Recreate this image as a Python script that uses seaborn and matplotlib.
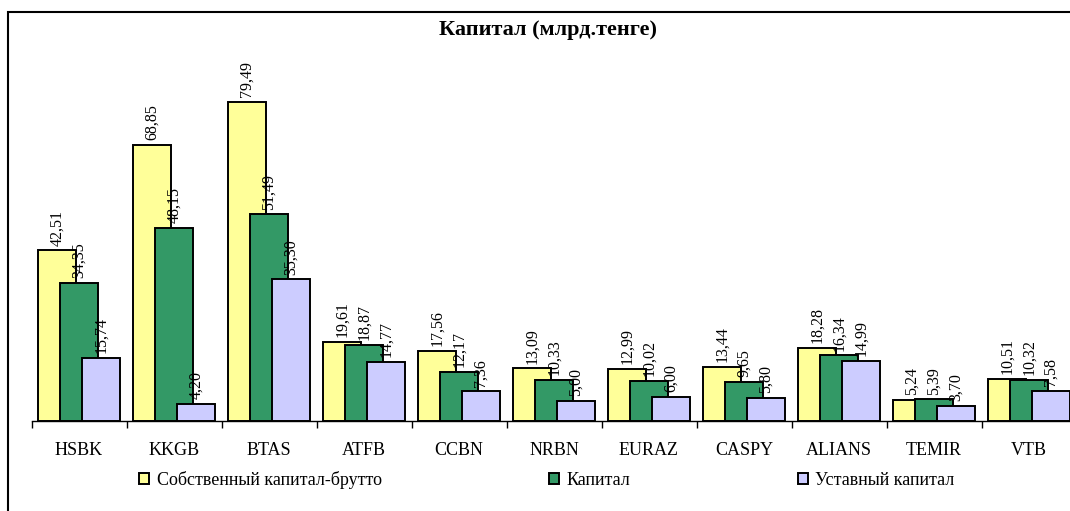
import pandas as pd
import matplotlib
matplotlib.use("Agg")
import matplotlib.pyplot as plt
from matplotlib.patches import Patch, Rectangle
import seaborn as sns

# --- Data ---
banks = ["HSBK", "KKGB", "BTAS", "ATFB", "CCBN", "NRBN", "EURAZ", "CASPY", "ALIANS", "TEMIR", "VTB"]
gross_equity = [42.51, 68.85, 79.49, 19.61, 17.56, 13.09, 12.99, 13.44, 18.28, 5.24, 10.51]
capital = [34.35, 48.15, 51.49, 18.87, 12.17, 10.33, 10.02, 9.65, 16.34, 5.39, 10.32]
charter_capital = [15.74, 4.20, 35.30, 14.77, 7.36, 5.00, 6.00, 5.80, 14.99, 3.70, 7.58]
series_names = ["Собственный капитал-брутто", "Капитал", "Уставный капитал"]
colors = ["#FFFF99", "#339966", "#CCCCFF"]

df = pd.DataFrame({
    "bank": banks * 3,
    "series": [series_names[0]] * 11 + [series_names[1]] * 11 + [series_names[2]] * 11,
    "value": gross_equity + capital + charter_capital,
})

# --- Setup ---
sns.set_theme(style="white")
plt.rcParams["font.family"] = ["Liberation Serif", "DejaVu Serif"]
plt.rcParams["text.color"] = "black"
plt.rcParams["xtick.color"] = "black"

W, H = 1070, 511
fig = plt.figure(figsize=(W / 100, H / 100), dpi=100)
# axes slightly wider than the figure, the right edge of the original is clipped
ax = fig.add_axes([31.5 / W, (H - 421) / H, 1045 / W, (421 - 60) / H])

step = 0.2316  # distance between overlapping bars
sns.barplot(data=df, x="bank", y="value", hue="series", order=banks, hue_order=series_names,
            palette=colors, dodge=True, width=3 * step, edgecolor="black", linewidth=1.4,
            saturation=1, legend=False, ax=ax)

# widen bars so they overlap like in the original Excel chart
for cont in ax.containers:
    for p in cont.patches:
        c = p.get_x() + p.get_width() / 2
        p.set_width(0.40)
        p.set_x(c - 0.20)

# value labels
for cont in ax.containers:
    for p, v in zip(cont.patches, cont.datavalues):
        ax.annotate(f"{v:.2f}".replace(".", ","), (p.get_x() + p.get_width() / 2, v),
                    xytext=(0, 3.5), textcoords="offset points", rotation=90,
                    ha="center", va="bottom", fontsize=11.5, color="black")

ax.set_ylim(0, 90)
ax.set_xlim(-0.5, 10.5)
ax.set_xlabel("")
ax.set_ylabel("")
ax.set_yticks([])
sns.despine(ax=ax, left=True, top=True, right=True)
ax.spines["bottom"].set_color("black")
ax.spines["bottom"].set_linewidth(1.0)
ax.tick_params(axis="x", which="major", length=0, pad=15, labelsize=13, colors="black")
ax.set_xticks([i + 0.5 for i in range(-1, 11)], minor=True)
ax.tick_params(axis="x", which="minor", length=5, width=1, color="black", direction="out")
ax.xaxis.set_ticks_position("bottom")

# title
fig.text(548 / W, 1 - 30 / H, "Капитал (млрд.тенге)", ha="center", va="center",
         fontsize=16, fontweight="bold", color="black")

# legend
handles = [Patch(facecolor=c, edgecolor="black", linewidth=1.4) for c in colors]
fig.legend(handles, series_names, loc="center", bbox_to_anchor=(547 / W, 1 - 480 / H),
           ncol=3, frameon=False, fontsize=13, handlelength=0.55, handleheight=0.55,
           handletextpad=0.4, columnspacing=9.3)

# chart area border (clipped at right and bottom)
fig.add_artist(Rectangle((8 / W, -0.1), 1.2, (H - 12) / H + 0.1, transform=fig.transFigure,
                         fill=False, edgecolor="black", linewidth=1.5))

plt.savefig("out.png", dpi=100)
plt.close()
